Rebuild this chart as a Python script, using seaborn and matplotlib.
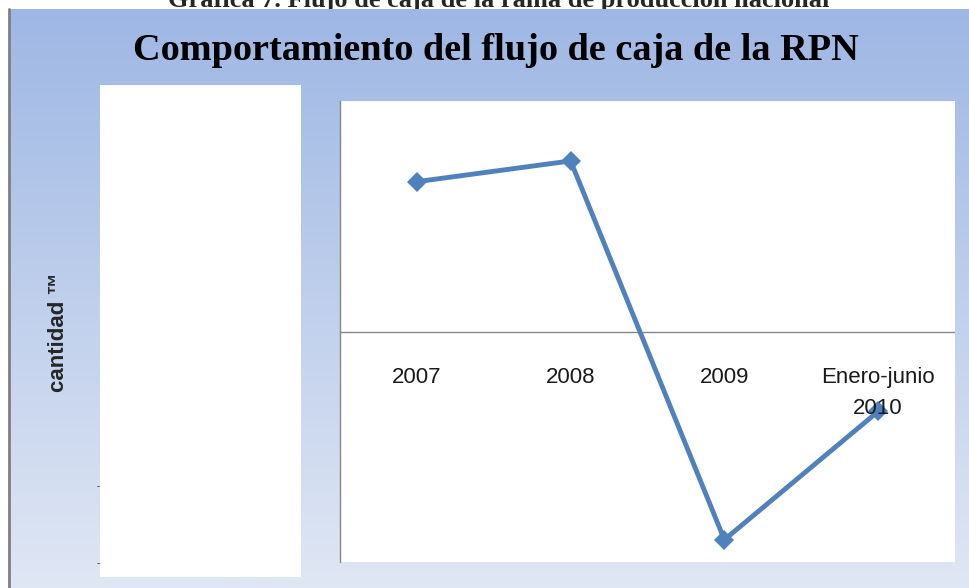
import numpy as np
import pandas as pd
import matplotlib
matplotlib.use("Agg")
import matplotlib.pyplot as plt
import seaborn as sns
from matplotlib.patches import Rectangle

# ------------------------------
# Data (unit = one hidden tick step)
# ------------------------------
periodos = ["2007", "2008", "2009", "Enero-junio\n2010"]
flujo_caja = [1950, 2220, -2710, -1040]
y_lim = (-3000, 3000)

df = pd.DataFrame({"periodo": periodos, "flujo": flujo_caja})

sns.set_theme(style="white")
plt.rcParams["font.family"] = ["Liberation Sans", "DejaVu Sans"]

W, H = 969, 588
fig = plt.figure(figsize=(W / 100, H / 100), dpi=100)
fig.patch.set_facecolor("white")

# ------------------------------
# Gradient background of the chart frame
# ------------------------------
bg = fig.add_axes([9 / W, 0, 1 - 9 / W, 1 - 9 / H], zorder=0)
top = np.array([158, 183, 228]) / 255
bot = np.array([224, 231, 244]) / 255
t = np.linspace(0, 1, 256)[:, None]
grad = (top[None, :] * (1 - t) + bot[None, :] * t)[:, None, :]
bg.imshow(grad, aspect="auto", extent=[0, 1, 0, 1])
bg.set_axis_off()

# left grey edge of the frame
fig.add_artist(plt.Line2D([9 / W, 9 / W], [0, 1 - 9 / H], color="#7f7f7f", lw=2, zorder=1))

# caption of the document, cut off by the chart (as in the source)
fig.text(0.515, 1 - 7 / H, "Gráfica 7. Flujo de caja de la rama de producción nacional",
         ha="center", va="baseline", fontsize=19, fontweight="bold",
         family=["Liberation Serif"], zorder=-1)

# title
fig.text(0.512, 1 - 60 / H, "Comportamiento del flujo de caja de la RPN",
         ha="center", va="baseline", fontsize=27.5, fontweight="bold",
         family=["Liberation Serif"], color="black", zorder=5)

# white box covering the value axis labels
fig.add_artist(Rectangle((100 / W, 1 - 577 / H), 201 / W, 492 / H,
                         transform=fig.transFigure, facecolor="white",
                         edgecolor="none", zorder=4))
for yy in (486, 563):
    fig.text(98 / W, 1 - yy / H, "-", ha="center", va="center", fontsize=7, zorder=3)

fig.text(59 / W, 1 - 332 / H, "cantidad ™", rotation=90, ha="center", va="center",
         fontsize=16, fontweight="bold", zorder=5)

# ------------------------------
# Plot area
# ------------------------------
ax = fig.add_axes([340 / W, 1 - 562 / H, 615 / W, 461 / H], zorder=2)
ax.set_facecolor("white")
sns.lineplot(data=df, x="periodo", y="flujo", ax=ax, color="#4f81bd",
             linewidth=3.5, marker="D", markersize=10, markeredgewidth=0, sort=False)
ax.set_xlim(-0.5, len(periodos) - 0.5)
ax.set_ylim(*y_lim)
ax.axhline(0, color="#868686", lw=1, zorder=1)

ax.set_xticks([])
ax.set_yticks([])
ax.set_xlabel("")
ax.set_ylabel("")
for side in ("top", "right", "bottom"):
    ax.spines[side].set_visible(False)
ax.spines["left"].set_color("#868686")
ax.spines["left"].set_linewidth(1)

# category labels under the zero line
for i, lab in enumerate(periodos):
    ax.annotate(lab, xy=(i, 0), xytext=(0, -25.5), textcoords="offset points",
                ha="center", va="top", fontsize=16, linespacing=1.6,
                color="#1a1a1a", zorder=3)

plt.savefig("out.png", dpi=100)
